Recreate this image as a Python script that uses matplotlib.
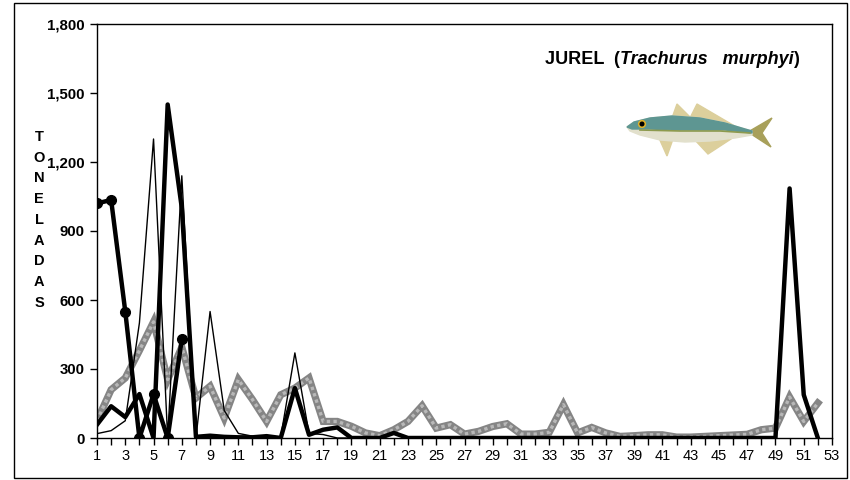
import matplotlib
matplotlib.use("Agg")
import matplotlib.pyplot as plt
from matplotlib.patches import Rectangle, Polygon, Circle
from matplotlib.ticker import FuncFormatter, MultipleLocator

plt.rcParams['font.family'] = ['Liberation Sans', 'DejaVu Sans']

weeks = list(range(1, 53))

# gray thick band (weeks 1-52)
gray_vals = [75, 210, 261, 380, 505, 254, 395, 174, 225, 87,
             254, 167, 72, 188, 217, 261, 72, 72, 51, 22,
             10, 36, 72, 140, 43, 58, 17, 29, 50, 62,
             17, 17, 25, 145, 22, 46, 22, 7, 10, 14,
             14, 4, 4, 7, 10, 13, 16, 36, 43, 178,
             72, 152]

# thick black line (weeks 1-52)
thick_vals = [58, 138, 91, 191, 0, 1450, 1000, 5, 10, 5,
              3, 3, 8, 0, 217, 14, 36, 46, 0, 0,
              0, 22, 0, 0, 0, 0, 0, 0, 0, 0,
              0, 0, 0, 0, 0, 0, 0, 0, 0, 0,
              0, 0, 0, 0, 0, 0, 0, 0, 0, 1085,
              188, 0]

# thin black line (weeks 1-20)
thin_weeks = list(range(1, 21))
thin_vals = [19, 32, 75, 500, 1300, 0, 1140, 0, 550, 120,
             20, 8, 5, 5, 370, 20, 15, 0, 0, 0]

# thick line with markers (weeks 1-7)
dot_weeks = [1, 2, 3, 4, 5, 6, 7]
dot_vals = [1020, 1035, 550, 0, 190, 0, 430]

W, H = 850, 480
fig = plt.figure(figsize=(W / 100, H / 100), dpi=100)
ax = fig.add_axes([97 / W, 42 / H, (832 - 97) / W, (438 - 24) / H])

ax.plot(weeks, gray_vals, color='#858585', lw=5.2, solid_joinstyle='miter', zorder=2)
ax.plot(weeks, gray_vals, color='#b8b8b8', lw=2.4, ls=(0, (1, 1)), zorder=2.1)
ax.plot(thin_weeks, thin_vals, color='black', lw=1.0, zorder=3)
ax.plot(weeks, thick_vals, color='black', lw=3.2, zorder=4)
ax.plot(dot_weeks, dot_vals, color='black', lw=3.2, marker='o', markersize=7, zorder=5)

ax.set_xlim(1, 53)
ax.set_ylim(0, 1800)
ax.set_yticks(range(0, 1801, 300))
ax.yaxis.set_major_formatter(FuncFormatter(lambda v, p: f"{int(v):,}"))
ax.set_xticks(range(1, 54, 2))
ax.xaxis.set_minor_locator(MultipleLocator(1))
ax.tick_params(axis='both', which='both', direction='out', length=5, width=1, color='black')
ax.tick_params(axis='x', labelsize=10.5, pad=3)
ax.tick_params(axis='y', labelsize=10.8, pad=4)
for lbl in ax.get_yticklabels():
    lbl.set_fontweight('bold')
for s in ax.spines.values():
    s.set_linewidth(1)
    s.set_color('black')

# outer chart border
fig.patches.append(Rectangle((14 / W, 2 / H), (847 - 14) / W, (477 - 2) / H,
                             transform=fig.transFigure, fill=False, lw=1, ec='black'))

# stacked y label
for i, ch in enumerate("TONELADAS"):
    fig.text(39 / W, 1 - (137 + i * 20.7) / H, ch, ha='center', va='center',
             fontsize=10.5, fontweight='bold')

# title with italic species name
fig.canvas.draw()
rend = fig.canvas.get_renderer()
x = 545
parts = [("JUREL  (", 'normal'), ("Trachurus   murphyi", 'italic'), (")", 'normal')]
for txt, style in parts:
    t = fig.text(x / W, 1 - 60 / H, txt, ha='left', va='center', fontsize=13,
                 fontweight='bold', fontstyle=style)
    bb = t.get_window_extent(renderer=rend)
    x = bb.x1

# fish drawing in pixel coordinates
fa = fig.add_axes([0, 0, 1, 1], zorder=10)
fa.set_xlim(0, W)
fa.set_ylim(H, 0)
fa.axis('off')
fin = '#dccf9c'
fa.add_patch(Polygon([(672, 118), (677, 104), (691, 118)], color=fin))
fa.add_patch(Polygon([(690, 118), (697, 104), (738, 128), (722, 126)], color=fin))
fa.add_patch(Polygon([(694, 139), (708, 154), (734, 137)], color=fin))
fa.add_patch(Polygon([(659, 138), (667, 156), (673, 139)], color=fin))
fa.add_patch(Polygon([(748, 132), (772, 118), (762, 133), (771, 147)], color='#a8a05a'))
body = [(627, 127), (634, 122), (650, 118), (672, 116), (700, 118), (725, 123),
        (745, 129), (752, 131), (752, 135), (735, 138), (710, 141), (685, 142),
        (660, 140), (640, 135), (630, 131)]
fa.add_patch(Polygon(body, color='#e2e0cc'))
upper = [(627, 127), (634, 122), (650, 118), (672, 116), (700, 118), (725, 123),
         (745, 129), (752, 131), (752, 133), (725, 130), (700, 130), (672, 130),
         (650, 129), (632, 129)]
fa.add_patch(Polygon(upper, color='#5e9692'))
fa.plot([640, 680, 720, 750], [130, 131, 131, 133], color='#8d9a4e', lw=1.2)
fa.add_patch(Circle((642, 124), 3.4, color='#e0b22a'))
fa.add_patch(Circle((642, 124), 1.8, color='black'))

fig.savefig('out.png', dpi=100)
